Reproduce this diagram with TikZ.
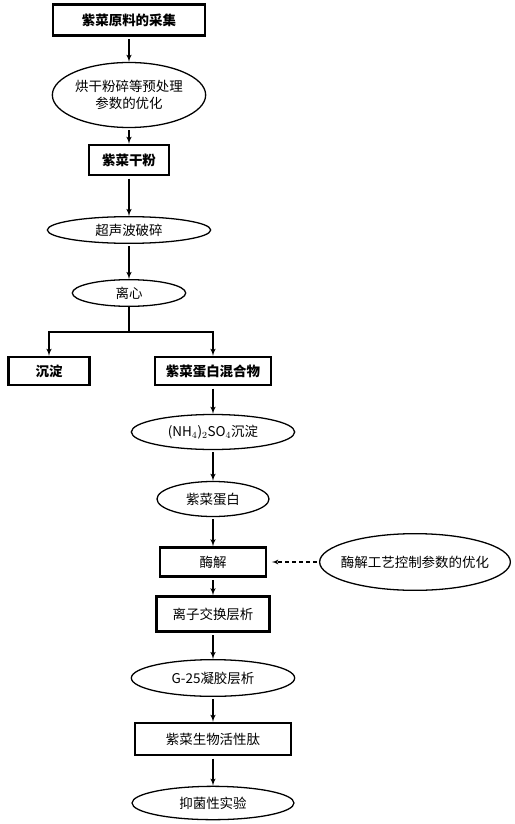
\documentclass[tikz,border=0pt]{standalone}
\usepackage{fontspec}
\setmainfont{Noto Sans CJK SC}
\usetikzlibrary{shapes,arrows}
\tikzstyle{block} = [rectangle, draw, line width=2pt, text centered, inner sep=0pt]
\tikzstyle{cloud} = [draw, ellipse, line width=1.1pt, inner sep=0pt, align=center]
\tikzstyle{line} = [draw, line width=1.1pt, -latex', shorten <=2pt]

\begin{document}
\begin{tikzpicture}[node distance = 2cm, auto, font=\fontsize{11.5}{15}\selectfont]
    \useasboundingbox (0,0) rectangle (15.42,-24.72);
    % Place nodes
    \node [block, font=\fontsize{11.5}{15}\selectfont\bfseries, minimum width=4.56cm, minimum height=0.93cm] (collect) at (3.87,-0.6) {紫菜原料的采集};
    \node [cloud, below of=collect, node distance=2.25cm, minimum width=4.6cm, minimum height=1.95cm] (pretreat) {烘干粉碎等预处理\\参数的优化};
    \node [block, font=\fontsize{11.5}{15}\selectfont\bfseries, below of=pretreat, node distance=1.95cm, minimum width=2.4cm, minimum height=0.9cm] (powder) {紫菜干粉};
    \node [cloud, below of=powder, node distance=2.1cm, minimum width=4.9cm, minimum height=0.8cm] (ultra) {超声波破碎};
    \node [cloud, below of=ultra, node distance=1.89cm, minimum width=3.4cm, minimum height=0.8cm] (centri) {离心};
    \coordinate [below of=centri, node distance=1.17cm] (split);
    \node [block, font=\fontsize{11.5}{15}\selectfont\bfseries, minimum width=2.43cm, minimum height=0.84cm] (sediment) at (1.47,-11.13) {沉淀};
    \node [block, font=\fontsize{11.5}{15}\selectfont\bfseries, minimum width=3.48cm, minimum height=0.84cm] (mixture) at (6.39,-11.13) {紫菜蛋白混合物};
    \node [cloud, below of=mixture, node distance=1.83cm, minimum width=4.9cm, minimum height=1.05cm] (ammon) {(NH$_4$)$_2$SO$_4$沉淀};
    \node [cloud, below of=ammon, node distance=2.01cm, minimum width=3.36cm, minimum height=1.05cm] (protein) {紫菜蛋白};
    \node [block, below of=protein, node distance=1.89cm, minimum width=3.18cm, minimum height=0.87cm] (hydro) {酶解};
    \node [cloud, right of=hydro, node distance=6.06cm, inner xsep=-0.2cm, minimum width=5.7cm, minimum height=1.7cm] (optim) {酶解工艺控制参数的优化};
    \node [block, below of=hydro, node distance=1.56cm, minimum width=3.39cm, minimum height=1.05cm] (ionex) {离子交换层析};
    \node [cloud, below of=ionex, node distance=1.92cm, minimum width=4.9cm, minimum height=1.1cm] (gel) {G-25凝胶层析};
    \node [block, below of=gel, node distance=1.83cm, minimum width=4.68cm, minimum height=0.96cm] (peptide) {紫菜生物活性肽};
    \node [cloud, below of=peptide, node distance=1.92cm, minimum width=4.86cm, minimum height=1.0cm] (antibac) {抑菌性实验};
    % Draw edges
    \path [line] (collect) -- (pretreat);
    \path [line] (pretreat) -- (powder);
    \path [line] (powder) -- (ultra);
    \path [line] (ultra) -- (centri);
    \draw [line width=1.1pt] (centri) -- (split);
    \path [line, shorten <=0pt] (split) -| (sediment);
    \path [line, shorten <=0pt] (split) -| (mixture);
    \path [line] (mixture) -- (ammon);
    \path [line] (ammon) -- (protein);
    \path [line] (protein) -- (hydro);
    \path [line, dashed, line width=0.9pt, shorten >=4pt] (optim) -- (hydro);
    \path [line] (hydro) -- (ionex);
    \path [line] (ionex) -- (gel);
    \path [line] (gel) -- (peptide);
    \path [line] (peptide) -- (antibac);
\end{tikzpicture}
\end{document}
